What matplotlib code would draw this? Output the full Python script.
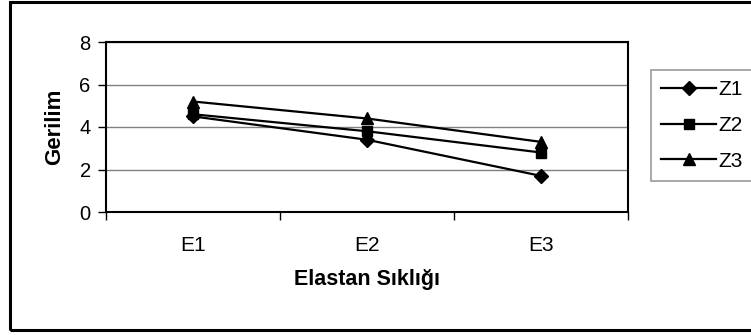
import matplotlib.pyplot as plt
from matplotlib.patches import Rectangle

categories = ["E1", "E2", "E3"]
z1 = [4.5, 3.4, 1.7]
z2 = [4.6, 3.8, 2.8]
z3 = [5.2, 4.4, 3.3]
series_names = ["Z1", "Z2", "Z3"]
markers = ["D", "s", "^"]
marker_sizes = [7, 7, 8]

plt.rcParams['font.family'] = ['Liberation Sans', 'DejaVu Sans']

W, H = 751, 335
fig = plt.figure(figsize=(W / 100, H / 100), dpi=100)
ax = fig.add_axes([106 / W, 1 - 212 / H, (628 - 106) / W, (212 - 42) / H])

x = list(range(len(categories)))
for vals, name, m, ms in zip([z1, z2, z3], series_names, markers, marker_sizes):
    ax.plot(x, vals, color="black", lw=1.6, marker=m, ms=ms, label=name,
            markeredgecolor="black", markerfacecolor="black")

ax.set_xlim(-0.5, 2.5)
ax.set_ylim(0, 8)
ax.set_yticks([0, 2, 4, 6, 8])
ax.grid(axis="y", color="#808080", lw=1)
ax.set_axisbelow(True)

# category labels centred, ticks between categories
ax.set_xticks(x)
ax.set_xticklabels(categories, fontsize=15)
ax.set_xticks([-0.5, 0.5, 1.5, 2.5], minor=True)
ax.tick_params(axis="x", which="major", length=0, pad=17)
ax.tick_params(axis="x", which="minor", length=6, width=1, direction="out")
ax.tick_params(axis="y", length=6, width=1, labelsize=14.5, pad=5)

for s in ax.spines.values():
    s.set_color("black")
    s.set_linewidth(1.5)

ax.set_ylabel("Gerilim", fontsize=16, fontweight="bold", labelpad=10)
ax.set_xlabel("Elastan Sıklığı", fontsize=15.5, fontweight="bold", labelpad=10)

leg = ax.legend(loc="upper left", bbox_to_anchor=(651 / W, 1 - 70 / H),
                bbox_transform=fig.transFigure, fontsize=15, frameon=True,
                fancybox=False, edgecolor="#808080", handlelength=2.6,
                handletextpad=0.15, labelspacing=0.8, borderpad=0.5,
                borderaxespad=0)
leg.get_frame().set_linewidth(1.2)

fig.patches.append(Rectangle((10 / W, 5 / H), 1.0, 1 - 2 / H - 5 / H,
                             transform=fig.transFigure, fill=False,
                             edgecolor="black", lw=2.2, clip_on=False))

fig.savefig("out.png", dpi=100)
